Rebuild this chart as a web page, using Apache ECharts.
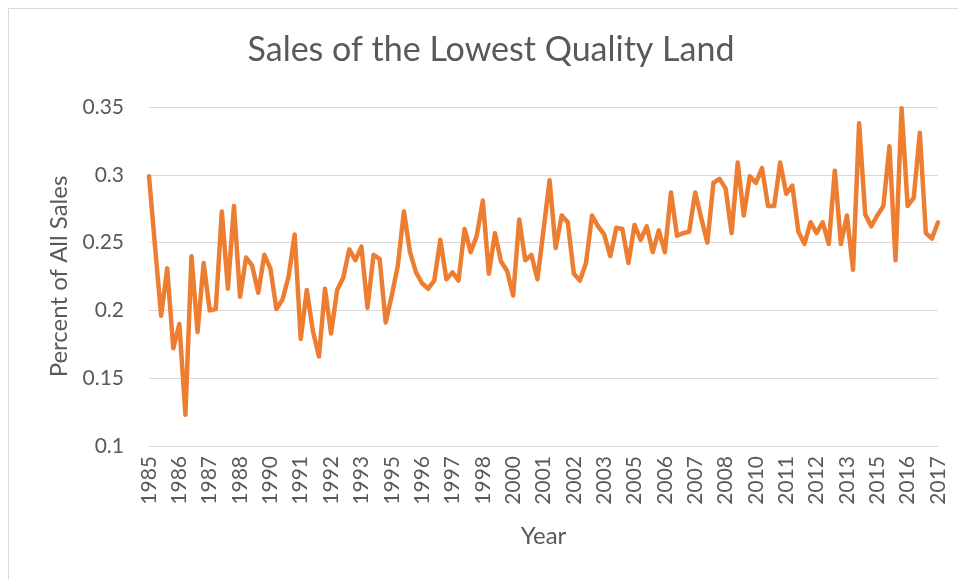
<!DOCTYPE html>
<html>
<head>
<meta charset="utf-8">
<script src="https://cdn.jsdelivr.net/npm/echarts@6/dist/echarts.min.js"></script>
<style>
html,body{margin:0;padding:0;background:#fff;}
#chart{width:958px;height:579px;}
</style>
</head>
<body>
<div id="chart"></div>
<script>
const titleText = 'Sales of the Lowest Quality Land';
const xAxisTitle = 'Year';
const yAxisTitle = 'Percent of All Sales';

// one category per quarter, labelled with its year
const categories = [
 '1985','1985','1985','1985','1986','1986','1986','1986','1987','1987','1987','1987',
 '1988','1988','1988','1988','1989','1989','1989','1989','1990','1990','1990','1990',
 '1991','1991','1991','1991','1992','1992','1992','1992','1993','1993','1993','1993',
 '1994','1994','1994','1994','1995','1995','1995','1995','1996','1996','1996','1996',
 '1997','1997','1997','1997','1998','1998','1998','1998','1999','1999','1999','1999',
 '2000','2000','2000','2000','2001','2001','2001','2001','2002','2002','2002','2002',
 '2003','2003','2003','2003','2004','2004','2004','2004','2005','2005','2005','2005',
 '2006','2006','2006','2006','2007','2007','2007','2007','2008','2008','2008','2008',
 '2009','2009','2009','2009','2010','2010','2010','2010','2011','2011','2011','2011',
 '2012','2012','2012','2012','2013','2013','2013','2013','2014','2014','2014','2014',
 '2015','2015','2015','2015','2016','2016','2016','2016','2017','2017','2017'
];

const salesShare = [
 0.299,0.247,0.196,0.231,0.172,0.190,0.123,0.240,0.184,0.235,0.200,0.201,
 0.273,0.216,0.277,0.210,0.239,0.233,0.213,0.241,0.231,0.201,0.208,0.225,
 0.256,0.179,0.215,0.185,0.166,0.216,0.183,0.215,0.224,0.245,0.237,0.247,
 0.202,0.241,0.238,0.191,0.211,0.233,0.273,0.243,0.228,0.220,0.216,0.222,
 0.252,0.223,0.228,0.222,0.260,0.243,0.255,0.281,0.227,0.257,0.236,0.229,
 0.211,0.267,0.237,0.241,0.223,0.259,0.296,0.246,0.270,0.265,0.227,0.222,
 0.235,0.270,0.262,0.256,0.240,0.261,0.260,0.235,0.263,0.252,0.262,0.243,
 0.259,0.243,0.287,0.255,0.257,0.258,0.287,0.268,0.250,0.294,0.297,0.290,
 0.257,0.309,0.270,0.299,0.294,0.305,0.277,0.277,0.309,0.286,0.292,0.258,
 0.249,0.265,0.257,0.265,0.249,0.303,0.249,0.270,0.230,0.338,0.271,0.262,
 0.270,0.277,0.321,0.237,0.349,0.277,0.283,0.331,0.257,0.253,0.265
];

const yTicks = { min: 0.1, max: 0.35, step: 0.05 };

const FONT = 'Lato, "Open Sans", sans-serif';
const TXT = '#595959';

const chart = echarts.init(document.getElementById('chart'), null, { renderer: 'canvas' });
chart.setOption({
  backgroundColor: '#ffffff',
  animation: false,
  graphic: [{
    type: 'rect',
    shape: { x: 8.5, y: 8.5, width: 1000, height: 1000 },
    style: { fill: 'none', stroke: '#d9d9d9', lineWidth: 1 },
    silent: true, z: -1
  }],
  title: {
    text: titleText,
    left: 486,
    top: 28,
    textAlign: 'center',
    textStyle: { fontFamily: FONT, fontSize: 34, fontWeight: 'normal', color: TXT }
  },
  grid: { left: 149, right: 20, top: 107, bottom: 133, containLabel: false },
  xAxis: {
    type: 'category',
    data: categories,
    boundaryGap: false,
    name: xAxisTitle,
    nameLocation: 'middle',
    nameGap: 78,
    nameTextStyle: { fontFamily: FONT, fontSize: 24, color: TXT },
    axisLine: { show: true, lineStyle: { color: '#d9d9d9', width: 1 } },
    axisTick: { show: false },
    axisLabel: {
      interval: 4,
      rotate: 90,
      margin: 10,
      fontFamily: FONT,
      fontSize: 21,
      color: TXT
    },
    splitLine: { show: false }
  },
  yAxis: {
    type: 'value',
    min: yTicks.min,
    max: yTicks.max,
    interval: yTicks.step,
    name: yAxisTitle,
    nameLocation: 'middle',
    nameGap: 76,
    nameRotate: 90,
    nameTextStyle: { fontFamily: FONT, fontSize: 24, color: TXT },
    axisLine: { show: false },
    axisTick: { show: false },
    axisLabel: {
      margin: 25,
      fontFamily: FONT,
      fontSize: 21,
      color: TXT,
      formatter: v => String(parseFloat(v.toFixed(2)))
    },
    splitLine: { lineStyle: { color: '#d9d9d9', width: 1 } }
  },
  series: [{
    type: 'line',
    data: salesShare,
    showSymbol: false,
    symbol: 'none',
    smooth: false,
    lineStyle: { color: '#ED7D31', width: 4.5, cap: 'round', join: 'round' },
    itemStyle: { color: '#ED7D31' }
  }]
});
</script>
</body>
</html>
